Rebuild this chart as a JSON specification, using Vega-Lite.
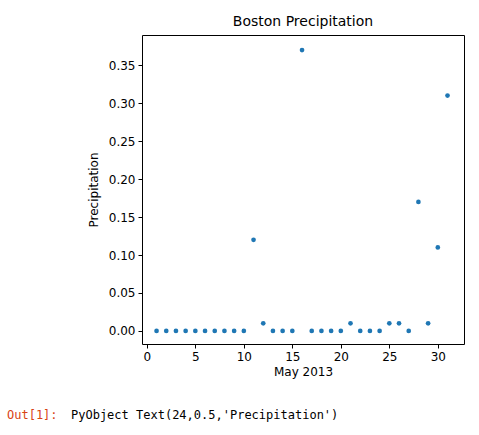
{
  "$schema": "https://vega.github.io/schema/vega-lite/v6.json",
  "width": 322,
  "height": 309,
  "autosize": {"type": "none"},
  "padding": {"left": 142, "top": 35, "right": 15, "bottom": 91},
  "background": "white",
  "title": {"text": "Boston Precipitation", "fontSize": 14, "fontWeight": "normal", "font": "DejaVu Sans", "offset": 6},
  "data": {"values": [
    {"day": 1, "p": 0}, {"day": 2, "p": 0}, {"day": 3, "p": 0}, {"day": 4, "p": 0},
    {"day": 5, "p": 0}, {"day": 6, "p": 0}, {"day": 7, "p": 0}, {"day": 8, "p": 0},
    {"day": 9, "p": 0}, {"day": 10, "p": 0}, {"day": 11, "p": 0.12}, {"day": 12, "p": 0.01},
    {"day": 13, "p": 0}, {"day": 14, "p": 0}, {"day": 15, "p": 0}, {"day": 16, "p": 0.37},
    {"day": 17, "p": 0}, {"day": 18, "p": 0}, {"day": 19, "p": 0}, {"day": 20, "p": 0},
    {"day": 21, "p": 0.01}, {"day": 22, "p": 0}, {"day": 23, "p": 0}, {"day": 24, "p": 0},
    {"day": 25, "p": 0.01}, {"day": 26, "p": 0.01}, {"day": 27, "p": 0}, {"day": 28, "p": 0.17},
    {"day": 29, "p": 0.01}, {"day": 30, "p": 0.11}, {"day": 31, "p": 0.31}
  ]},
  "layer": [
    {
      "mark": {"type": "circle", "size": 22, "color": "#1f77b4", "opacity": 1},
      "encoding": {
        "x": {"field": "day", "type": "quantitative", "title": "May 2013",
              "scale": {"domain": [-0.5, 32.7], "nice": false, "zero": false},
              "axis": {"values": [0, 5, 10, 15, 20, 25, 30], "grid": false}},
        "y": {"field": "p", "type": "quantitative", "title": "Precipitation",
              "scale": {"domain": [-0.0172, 0.3898], "nice": false, "zero": false},
              "axis": {"values": [0, 0.05, 0.1, 0.15, 0.2, 0.25, 0.3, 0.35], "format": ".2f", "grid": false, "titlePadding": 8}}
      }
    },
    {
      "data": {"values": [{"t": "Out[1]:"}]},
      "mark": {"type": "text", "align": "left", "baseline": "middle", "font": "DejaVu Sans Mono", "fontSize": 12, "color": "#d84315", "x": -135, "y": 380},
      "encoding": {"text": {"field": "t"}}
    },
    {
      "data": {"values": [{"t": "PyObject Text(24,0.5,'Precipitation')"}]},
      "mark": {"type": "text", "align": "left", "baseline": "middle", "font": "DejaVu Sans Mono", "fontSize": 12, "color": "black", "x": -71, "y": 380},
      "encoding": {"text": {"field": "t"}}
    }
  ],
  "config": {
    "font": "DejaVu Sans",
    "view": {"stroke": "black", "strokeWidth": 1},
    "axis": {"labelFont": "DejaVu Sans", "titleFont": "DejaVu Sans", "labelFontSize": 12, "titleFontSize": 12,
             "titleFontWeight": "normal", "labelColor": "black", "titleColor": "black", "domain": false,
             "tickColor": "black", "tickSize": 4, "labelPadding": 3}
  }
}
